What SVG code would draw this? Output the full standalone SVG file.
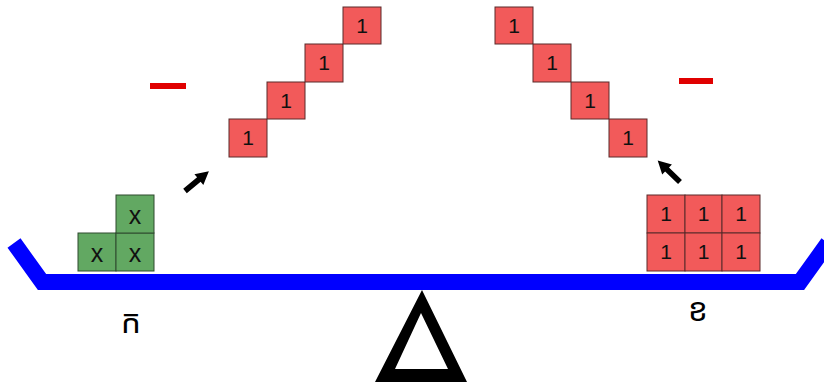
<svg xmlns="http://www.w3.org/2000/svg" xmlns:xlink="http://www.w3.org/1999/xlink" width="824" height="383" viewBox="0 0 824 383">
<style>
.r{fill:#f25a5a;stroke:#5a2a2a;stroke-width:1}
.g{fill:#62a862;stroke:#2e4a2e;stroke-width:1}
.t{font-family:"Liberation Sans",Arial,sans-serif;font-size:21px;fill:#111;text-anchor:middle}
.x{font-family:"Liberation Sans",Arial,sans-serif;font-size:25px;fill:#111;text-anchor:middle}
.minus{fill:#e00000}
.lbl{font-family:"Noto Sans Khmer","Khmer OS","Noto Serif Khmer",sans-serif;font-size:32px;fill:#000;text-anchor:middle}
</style>
<defs>
<path id="arr" d="M0,-2.8 L18,-2.8 L18,-7 L31,0 L18,7 L18,2.8 L0,2.8 Z" fill="#000"/>
</defs>
<rect width="824" height="383" fill="#fff"/>
<g id="beam">
<polyline points="14,243 42,282 800,282 828,243" fill="none" stroke="#0000ff" stroke-width="16" stroke-linejoin="miter"/>
</g>
<g id="fulcrum">
<path d="M422,290 L467,382 L375,382 Z M421,313 L395,369 L448,369 Z" fill="#000" fill-rule="evenodd"/>
</g>
<g id="left-x">
<rect class="g" x="78" y="233" width="38" height="38"/><text class="x" x="97" y="262">x</text>
<rect class="g" x="116" y="233" width="38" height="38"/><text class="x" x="135" y="262">x</text>
<rect class="g" x="116" y="195" width="38" height="38"/><text class="x" x="135" y="224">x</text>
</g>
<g id="right-ones">
<rect class="r" x="647" y="195" width="38" height="38"/><text class="t" x="666" y="221">1</text>
<rect class="r" x="685" y="195" width="37" height="38"/><text class="t" x="703.5" y="221">1</text>
<rect class="r" x="722" y="195" width="38" height="38"/><text class="t" x="741" y="221">1</text>
<rect class="r" x="647" y="233" width="38" height="38"/><text class="t" x="666" y="259">1</text>
<rect class="r" x="685" y="233" width="37" height="38"/><text class="t" x="703.5" y="259">1</text>
<rect class="r" x="722" y="233" width="38" height="38"/><text class="t" x="741" y="259">1</text>
</g>
<g id="left-stair">
<rect class="r" x="229" y="119" width="38" height="38"/><text class="t" x="248" y="145">1</text>
<rect class="r" x="267" y="82" width="38" height="37"/><text class="t" x="286" y="108">1</text>
<rect class="r" x="305" y="44" width="38" height="38"/><text class="t" x="324" y="70">1</text>
<rect class="r" x="343" y="7" width="38" height="37"/><text class="t" x="362" y="33">1</text>
</g>
<g id="right-stair">
<rect class="r" x="495" y="7" width="38" height="37"/><text class="t" x="514" y="33">1</text>
<rect class="r" x="533" y="44" width="38" height="38"/><text class="t" x="552" y="70">1</text>
<rect class="r" x="571" y="82" width="38" height="37"/><text class="t" x="590" y="108">1</text>
<rect class="r" x="609" y="119" width="38" height="38"/><text class="t" x="628" y="145">1</text>
</g>
<g id="minus-left"><rect class="minus" x="150" y="83" width="36" height="6"/></g>
<g id="minus-right"><rect class="minus" x="679" y="78" width="34" height="6"/></g>
<g id="connectors">
<use xlink:href="#arr" transform="translate(185,191) rotate(-39.6)"/>
<use xlink:href="#arr" transform="translate(680,182) rotate(-136)"/>
</g>
<g id="label-left"><text class="lbl" x="131" y="333">ក</text></g>
<g id="label-right"><text class="lbl" x="698" y="321">ខ</text></g>
</svg>
